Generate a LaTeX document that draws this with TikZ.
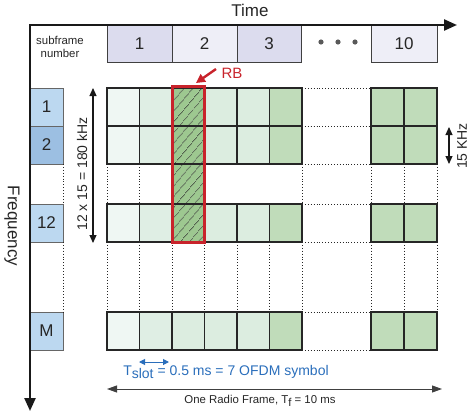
\documentclass[tikz,border=0pt]{standalone}
\usepackage{fontspec}
\setmainfont{Liberation Sans}
\usepackage{tikz}
\usetikzlibrary{arrows.meta,calc,positioning,backgrounds,patterns.meta}
\definecolor{sfdark}{HTML}{DCDCEE}
\definecolor{sflight}{HTML}{EEEEF7}
\definecolor{fblue}{HTML}{BCD8F0}
\definecolor{fdark}{HTML}{9CBFE2}
\definecolor{gA}{HTML}{EFF7F3}
\definecolor{gB}{HTML}{DFEEE4}
\definecolor{gC}{HTML}{DCEDE0}
\definecolor{gD}{HTML}{C0DCBA}
\definecolor{rbgreen}{HTML}{9DC890}
\definecolor{rbred}{HTML}{C8232B}
\definecolor{slotblue}{HTML}{2A6EBB}
\tikzset{
	big text/.style={font=\fontsize{17}{20}\selectfont,text=black!85},
	mid text/.style={font=\fontsize{14}{16}\selectfont,text=black!85},
	small text/.style={font=\fontsize{11.4}{13}\selectfont,text=black!85},
	grid cell/.style={draw=black!85,line width=1.2pt,minimum width=32.5pt,
		minimum height=38pt,inner sep=0pt,outer sep=0pt,anchor=north west},
	sub box/.style={draw=black!75,line width=0.8pt,minimum height=37pt,
		inner sep=0pt,outer sep=0pt,anchor=north west,big text},
	freq box/.style={draw=black!60,line width=0.8pt,minimum width=33pt,
		minimum height=38pt,inner sep=0pt,outer sep=0pt,anchor=north west,big text},
	gap/.style={dotted,line width=0.9pt,black!85},
	axis/.style={line width=2.4pt,black!90,
		{Triangle[length=13pt,width=11pt]}-{Triangle[length=13pt,width=11pt]}},
	span/.style={line width=1.1pt,black!90,
		{Triangle[length=8pt,width=7pt]}-{Triangle[length=8pt,width=7pt]}}
}

\begin{document}
\begin{tikzpicture}[x=1pt,y=-1pt,semithick]
	\useasboundingbox (0,0) rectangle (469,418);
	% subframe row
	\node [small text,align=center] (sfn) at (60,47) {subframe\\number};
	\node [sub box,fill=sfdark,minimum width=65pt] (s1) at (107,25) {1};
	\node [sub box,fill=sflight,minimum width=65pt] (s2) at (172,25) {2};
	\node [sub box,fill=sfdark,minimum width=64pt] (s3) at (237,25) {3};
	\node [sub box,fill=sflight,minimum width=66pt] (s10) at (371,25) {10};
	\foreach \d in {321,338,355}
		\fill [black!65] (\d,42) circle (2.6);
	% frequency boxes
	\node [freq box,fill=fblue] (f1) at (30,88) {1};
	\node [freq box,fill=fdark] (f2) at (30,126) {2};
	\node [freq box,fill=fblue] (f12) at (30,204) {12};
	\node [freq box,fill=fblue] (fM) at (30,312) {M};
	\draw [gap] (f2.south east) -- (f12.north east);
	\draw [gap] (f12.south east) -- (fM.north east);
	% resource grid
	\foreach \r/\top/\rb in {1/88/none,2/126/none,12/204/none,M/312/gC} {
		\foreach \k/\col in {1/gA,2/gB,3/\rb,4/gC,5/gC,6/gD}
			\node [grid cell,fill=\col] (c\r-\k) at ({107+(\k-1)*32.5},\top) {};
		\node [grid cell,fill=gD,minimum width=33pt] (c\r-7) at (371,\top) {};
		\node [grid cell,fill=gD,minimum width=33pt] (c\r-8) at (404,\top) {};
		\draw [gap] (c\r-6.north east) -- (c\r-7.north west);
		\draw [gap] (c\r-6.south east) -- (c\r-7.south west);
	}
	\foreach \k in {1,2,7,8}
		\draw [gap] (c2-\k.south west) -- (c12-\k.north west);
	\draw [gap] (c2-6.south east) -- (c12-6.north east);
	\draw [gap] (c2-8.south east) -- (c12-8.north east);
	\foreach \k in {1,...,8}
		\draw [gap] (c12-\k.south west) -- (cM-\k.north west);
	\draw [gap] (c12-6.south east) -- (cM-6.north east);
	\draw [gap] (c12-8.south east) -- (cM-8.north east);
	% resource block
	\begin{scope}[on background layer]
		\fill [rbgreen] (c1-3.north west) rectangle (c12-3.south east);
		\fill [pattern={Lines[angle=50,distance=6.5pt,line width=0.65pt]},pattern color=black!85]
			(c1-3.north west) rectangle (c12-3.south east);
	\end{scope}
	\draw [rbred,line width=3pt] ($(c1-3.north west)+(0,-2)$) rectangle (c12-3.south east);
	\node [mid text,font=\fontsize{15}{17}\selectfont,text=rbred] (rb) at (232,73) {RB};
	\coordinate (rbtail) at (216,69);
	\coordinate (rbtip) at (196,83);
	\draw [rbred,line width=2.4pt,-{Triangle[length=9pt,width=9pt]}] (rbtail) -- (rbtip);
	% axes
	\coordinate (O) at (30,25);
	\coordinate (tend) at (457,25);
	\coordinate (fend) at (30,411);
	\draw [axis] (tend) -- (O) -- (fend);
	\node [big text] (time) at (250,10) {Time};
	\node [big text,rotate=-90] (freq) at (12,226) {Frequency};
	% bandwidth arrows
	\coordinate (bwtop) at (93,88);
	\coordinate (bwbot) at (93,243);
	\draw [span] (bwtop) -- (bwbot);
	\node [mid text,rotate=90] (bw) at (82,174) {12 x 15 = 180 kHz};
	\coordinate (sctop) at (449,127);
	\coordinate (scbot) at (449,164);
	\draw [span] (sctop) -- (scbot);
	\node [mid text,rotate=90] (sc) at (462,146) {15 KHz};
	% time spans
	\coordinate (slota) at (139,362);
	\coordinate (slotb) at (169,362);
	\draw [slotblue,line width=1pt,{Triangle[length=6pt,width=6pt]}-{Triangle[length=6pt,width=6pt]}] (slota) -- (slotb);
	\node [mid text,text=slotblue,anchor=base west,inner sep=0pt] (tslot) at (123,375)
		{T\raisebox{-3.5pt}{slot} = 0.5 ms = 7 OFDM symbol};
	\coordinate (fra) at (107,389);
	\coordinate (frb) at (442,389);
	\draw [black!75,line width=0.9pt,{Triangle[length=10pt,width=7pt]}-{Triangle[length=10pt,width=7pt]}] (fra) -- (frb);
	\node [small text,anchor=base,inner sep=0pt] (frame) at (260,403)
		{One Radio Frame, T\raisebox{-3pt}{f} = 10 ms};
\end{tikzpicture}
\end{document}
